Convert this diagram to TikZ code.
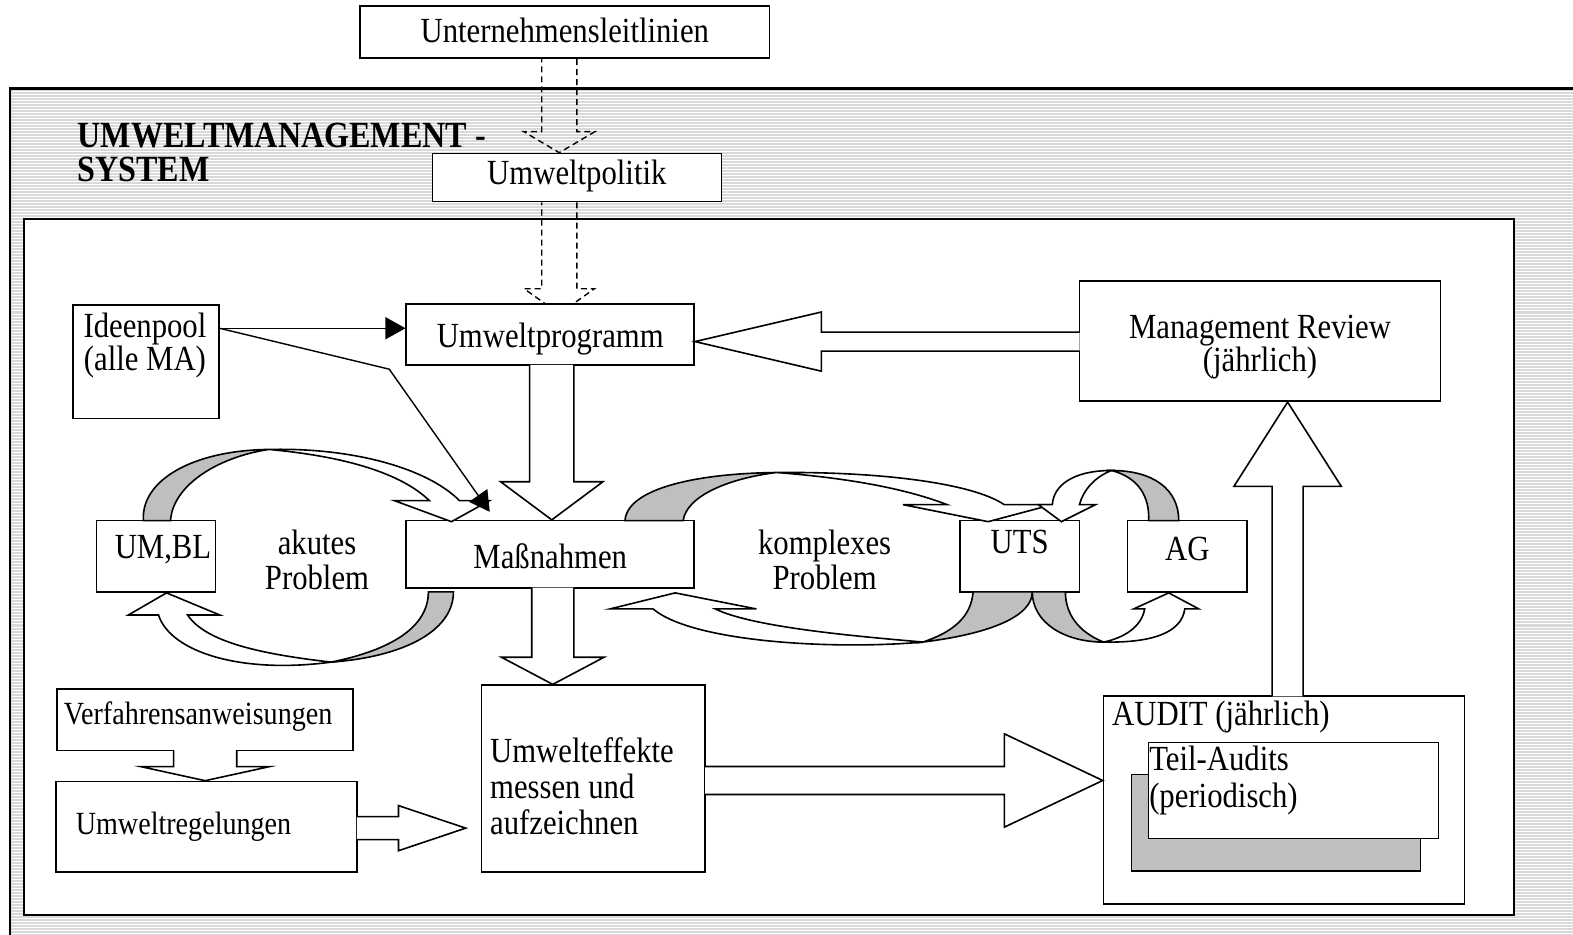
\documentclass[tikz,border=0pt]{standalone}
\usepackage{fontspec}
\setmainfont{Liberation Serif}[FakeStretch=0.87]
\usetikzlibrary{arrows.meta, positioning, calc, fit}

\begin{document}
\begin{tikzpicture}[x=0.5pt, y=-0.5pt,
    box/.style={draw, fill=white, line width=0.8pt, inner sep=0pt},
    lbl/.style={inner sep=0pt, font=\fontsize{17.6}{17.5}\selectfont, align=center},
    blockpath/.style args={#1/#2/#3}{to path={
        ($(\tikztotarget)!#3!(\tikztostart)$) coordinate (bh)
        ($(\tikztostart)!#1!90:(\tikztotarget)$) -- ($(bh)!#1!90:(\tikztotarget)$)
        -- ($(bh)!#2!90:(\tikztotarget)$) -- (\tikztotarget)
        -- ($(bh)!#2!-90:(\tikztotarget)$) -- ($(bh)!#1!-90:(\tikztotarget)$)
        -- ($(\tikztostart)!#1!-90:(\tikztotarget)$)}},
    barr/.style={draw, fill=white, line width=0.8pt, blockpath=#1},
    darr/.style={draw, line width=0.7pt, dash pattern=on 3pt off 2pt, blockpath=#1},
    arr/.style={-{Triangle[length=10pt,width=11pt]}, line width=0.7pt},
    rback/.style={draw, fill=black!25, line width=0.8pt},
    rfront/.style={draw, fill=white, line width=0.8pt}
  ]
  \useasboundingbox (0,0) rectangle (1568,932);

  % grey striped system frame
  \fill[black!15] (10,88) rectangle (1580,940);
  \foreach \y in {91,94,...,932}
    \draw[white, line width=0.5pt] (12,\y) -- (1580,\y);
  \draw[line width=1.4pt] (10,940) |- (1580,88);

  \node[box, line width=1pt, fit={(24,218) (1509,912)}] (innen) {};

  \node[box, fit={(359,6) (767,58)}] (leit) {};
  \node[box, fit={(431,153) (719,201)}] (pol) {};

  % dashed arrows from the top
  \coordinate (s1) at ($(leit.south)+(-5.5,0)$);
  \coordinate (t1) at (s1 |- pol.north);
  \draw[darr=8.75pt/17.75pt/10.5pt] (s1) to (t1);
  \coordinate (s2) at ($(pol.south)+(-17.5,0)$);
  \coordinate (t2) at ($(s2)+(0,111)$);
  \draw[darr=8.75pt/17.5pt/12.5pt] (s2) to (t2);

  \node[box, fit={(405,303) (692,364)}] (prog) {};
  \node[box, fit={(1076,280) (1436,400)}] (mr) {};
  \node[box, fit={(73,304) (218,417)}] (idee) {};
  \node[box, fit={(96,519) (215,590)}] (umbl) {};
  \node[box, fit={(405,519) (692,586)}] (massn) {};
  \node[box, fit={(957,519) (1076,590)}] (uts) {};
  \node[box, fit={(1124,519) (1243,590)}] (ag) {};
  \node[box, fit={(57,687) (352,748)}] (verf) {};
  \node[box, fit={(56,779) (356,869)}] (regel) {};
  \node[box, fit={(480,683) (703,869)}] (effekte) {};
  \node[box, fit={(1100,694) (1460,901)}] (audit) {};
  \node[box, fill=black!25, fit={(1128,772) (1416,868)}] (schatten) {};
  \node[box, fit={(1145,740) (1434,836)}] (teil) {};

  % block arrows
  \coordinate (s3) at ($(prog.south)+(1.5,-1)$);
  \coordinate (t3) at (s3 |- massn.north);
  \draw[barr=11pt/25.5pt/19pt] (s3) to (t3);
  \coordinate (s4) at ($(mr.west)+(1,0.5)$);
  \coordinate (t4) at (s4 -| prog.east);
  \draw[barr=4.75pt/14.75pt/63pt] (s4) to (t4);
  \coordinate (s5) at ($(massn.south)+(2.5,-1)$);
  \coordinate (t5) at (s5 |- effekte.north);
  \draw[barr=10.5pt/25.5pt/13.5pt] (s5) to (t5);
  \coordinate (s6) at ($(verf.south)+(0,-1)$);
  \coordinate (t6) at (s6 |- regel.north);
  \draw[barr=15.75pt/32pt/7pt] (s6) to (t6);
  \coordinate (s7) at ($(regel.east)+(-1,1.5)$);
  \coordinate (t7) at ($(s7 -| effekte.west)+(-15,0)$);
  \draw[barr=5.75pt/11.25pt/33.5pt] (s7) to (t7);
  \coordinate (s8) at ($(effekte.east)+(-1,2)$);
  \coordinate (t8) at (s8 -| audit.west);
  \draw[barr=7pt/23.25pt/49pt] (s8) to (t8);
  \coordinate (s9) at ($(audit.north)+(3.5,1)$);
  \coordinate (t9) at (s9 |- mr.south);
  \draw[barr=7.75pt/26.75pt/42pt] (s9) to (t9);

  % akutes Problem loop
  \draw[rback] (143,519) .. controls (140,480) and (190,449) .. (268,448)
    .. controls (215,456) and (172,485) .. (170,519) -- cycle;
  \draw[rfront] (268,448) .. controls (350,446) and (425,466) .. (458,499)
    -- (488,499) -- (450,520) -- (393,499) -- (428,499)
    .. controls (400,472) and (345,455) .. (268,448) -- cycle;
  \draw[rback] (427,590) .. controls (427,625) and (390,648) .. (330,660)
    .. controls (400,655) and (452,630) .. (452,590) -- cycle;
  \draw[rfront] (330,660) .. controls (240,672) and (170,650) .. (158,613)
    -- (128,613) -- (166,591) -- (219,613) -- (187,613)
    .. controls (205,640) and (260,652) .. (330,660) -- cycle;

  % komplexes Problem loop
  \draw[rback] (623,519) .. controls (625,488) and (690,472) .. (774,471)
    .. controls (725,477) and (684,495) .. (681,519) -- cycle;
  \draw[rfront] (774,471) .. controls (880,470) and (970,482) .. (1001,503)
    -- (1049,503) -- (985,520) -- (900,503) -- (944,503)
    .. controls (900,486) and (840,476) .. (774,471) -- cycle;
  \draw[rback] (970,590) .. controls (968,615) and (950,630) .. (920,640)
    .. controls (985,632) and (1029,615) .. (1029,590) -- cycle;
  \draw[rfront] (920,640) .. controls (830,648) and (690,640) .. (651,607)
    -- (608,607) -- (673,591) -- (754,607) -- (713,607)
    .. controls (750,625) and (850,634) .. (920,640) -- cycle;

  % UTS - AG loop
  \draw[rback] (1175,519) .. controls (1175,488) and (1150,469) .. (1108,469)
    .. controls (1135,476) and (1146,495) .. (1145,519) -- cycle;
  \draw[rfront] (1108,469) .. controls (1068,469) and (1050,485) .. (1049,503)
    -- (1035,503) -- (1058,520) -- (1092,503) -- (1076,503)
    .. controls (1080,488) and (1092,475) .. (1108,469) -- cycle;
  \draw[rback] (1029,590) .. controls (1029,620) and (1060,640) .. (1100,640)
    .. controls (1075,630) and (1062,612) .. (1062,590) -- cycle;
  \draw[rfront] (1100,640) .. controls (1150,641) and (1178,630) .. (1181,607)
    -- (1195,607) -- (1165,591) -- (1130,607) -- (1141,607)
    .. controls (1138,625) and (1120,636) .. (1100,640) -- cycle;

  % Ideenpool arrows
  \coordinate (ip) at ($(idee.north east)+(0,24)$);
  \coordinate (knick) at (388,368);
  \draw[arr] (ip) -- (ip -| prog.west);
  \draw[arr] (ip) -- (knick) -- ($(massn.north west)+(84,-8)$);

  % texts
  \node[lbl] (leittxt) at ($(leit.center)+(0,-2)$) {Unternehmensleitlinien};
  \node[lbl] (poltxt) at ($(pol.center)+(0,-2)$) {Umweltpolitik};
  \node[lbl] (progtxt) at ($(prog.center)+(0,4)$) {Umweltprogramm};
  \node[lbl, font=\fontsize{17.6}{16.5}\selectfont] (mrtxt) at ($(mr.center)+(0,6)$) {Management Review\\(jährlich)};
  \node[lbl] (massntxt) at ($(massn.center)+(0,1.5)$) {Maßnahmen};
  \node[lbl, font=\fontsize{16.1}{16}\selectfont] (verftxt) at ($(verf.center)+(-7,-3)$) {Verfahrensanweisungen};
  \node[lbl, anchor=west, align=left, font=\fontsize{18.4}{17}\selectfont\bfseries]
    (titel) at (77,152) {UMWELTMANAGEMENT -\\SYSTEM};
  \node[lbl, font=\fontsize{17.6}{16.5}\selectfont] (ideetxt) at ($(idee.north)+(-1,41)$) {Ideenpool\\(alle MA)};
  \node[lbl] (umbltxt) at ($(umbl.center)+(7,-7)$) {UM,BL};
  \node[lbl] (utstxt) at ($(uts.center)+(0,-14)$) {UTS};
  \node[lbl] (agtxt) at ($(ag.center)+(0,-7)$) {AG};
  \node[lbl] (akut) at (316,558) {akutes\\Problem};
  \node[lbl] (komplex) at (822,558) {komplexes\\Problem};
  \node[lbl, font=\fontsize{16.1}{16}\selectfont, right=10pt of regel.west] (regeltxt) {Umweltregelungen};
  \node[lbl, anchor=west, align=left, font=\fontsize{17.6}{18}\selectfont]
    (efftxt) at ($(effekte.west)+(9,8)$) {Umwelteffekte\\messen und\\aufzeichnen};
  \node[lbl, anchor=west, font=\fontsize{17.6}{16}\selectfont]
    (audittxt) at ($(audit.north west)+(9,22)$) {AUDIT (jährlich)};
  \node[lbl, anchor=west, align=left, font=\fontsize{17.6}{18}\selectfont]
    (teiltxt) at ($(teil.west)+(1,-10)$) {Teil-Audits\\(periodisch)};
\end{tikzpicture}
\end{document}
